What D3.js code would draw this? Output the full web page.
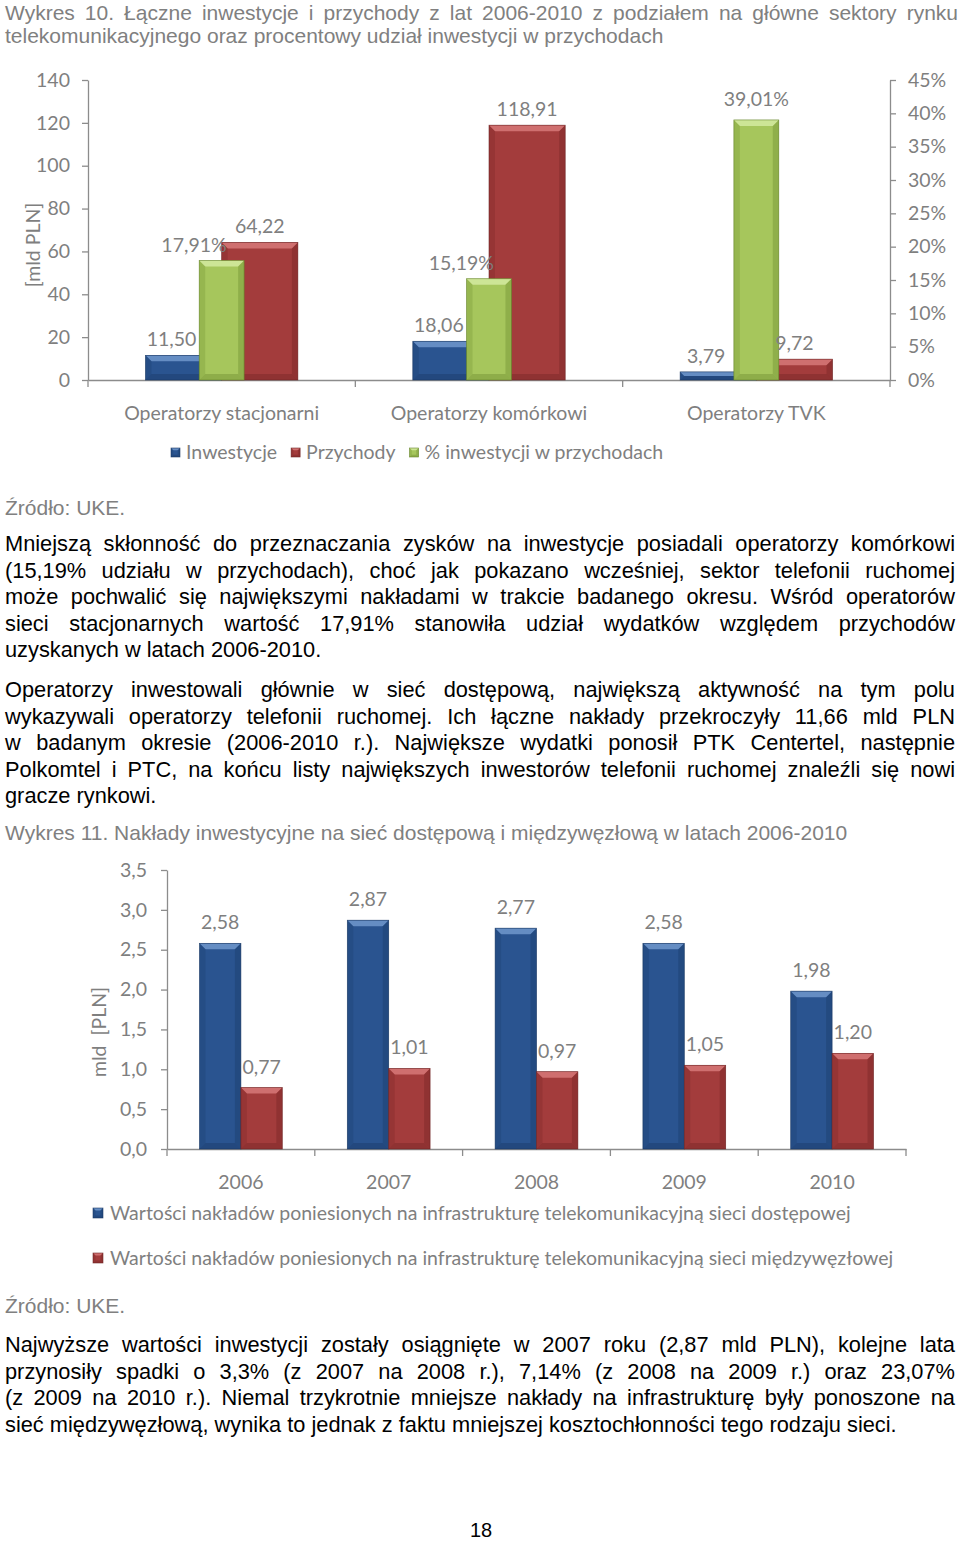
<!DOCTYPE html>
<html><head><meta charset="utf-8">
<script src="https://cdn.jsdelivr.net/npm/d3@7"></script>
<style>
body{margin:0;background:#fff}
svg{display:block}
</style></head><body>
<svg id="page" width="960" height="1541"></svg>
<script>
// ---------- DATA: chart 1 ----------
const sectors = ["Operatorzy stacjonarni", "Operatorzy komórkowi", "Operatorzy TVK"];
const investments = [11.50, 18.06, 3.79];
const revenues = [64.22, 118.91, 9.72];
const investShare = [0.1791, 0.1519, 0.3901];
const leftTicks1 = [0, 20, 40, 60, 80, 100, 120, 140];
const rightTicks1 = [0, 0.05, 0.10, 0.15, 0.20, 0.25, 0.30, 0.35, 0.40, 0.45];
const legend1 = ["Inwestycje", "Przychody", "% inwestycji w przychodach"];
const yTitle1 = "[mld PLN]";

// ---------- DATA: chart 2 ----------
const years = ["2006", "2007", "2008", "2009", "2010"];
const accessNet = [2.58, 2.87, 2.77, 2.58, 1.98];
const coreNet = [0.77, 1.01, 0.97, 1.05, 1.20];
const ticks2 = [0, 0.5, 1.0, 1.5, 2.0, 2.5, 3.0, 3.5];
const legend2 = [
  "Wartości nakładów poniesionych na infrastrukturę telekomunikacyjną sieci dostępowej",
  "Wartości nakładów poniesionych na infrastrukturę telekomunikacyjną sieci międzywęzłowej"
];
const yTitle2 = "mld  [PLN]";

// ---------- TEXT ----------
const title1 = [
  "Wykres 10. Łączne inwestycje i przychody z lat 2006-2010 z podziałem na główne sektory rynku",
  "telekomunikacyjnego oraz procentowy udział inwestycji w przychodach"
];
const source = "Źródło: UKE.";
const para1 = [
  "Mniejszą skłonność do przeznaczania zysków na inwestycje posiadali operatorzy komórkowi",
  "(15,19% udziału w przychodach), choć jak pokazano wcześniej, sektor telefonii ruchomej",
  "może pochwalić się największymi nakładami w trakcie badanego okresu. Wśród operatorów",
  "sieci stacjonarnych wartość 17,91% stanowiła udział wydatków względem przychodów",
  "uzyskanych w latach 2006-2010."
];
const para2 = [
  "Operatorzy  inwestowali głównie w sieć dostępową, największą aktywność na tym polu",
  "wykazywali operatorzy telefonii ruchomej. Ich łączne nakłady przekroczyły 11,66 mld PLN",
  "w badanym okresie (2006-2010 r.). Największe wydatki ponosił PTK Centertel, następnie",
  "Polkomtel i PTC, na końcu listy największych inwestorów telefonii ruchomej znaleźli się nowi",
  "gracze rynkowi."
];
const title2 = "Wykres 11. Nakłady inwestycyjne na sieć dostępową i międzywęzłową w latach 2006-2010";
const para3 = [
  "Najwyższe wartości inwestycji zostały osiągnięte w 2007 roku (2,87 mld PLN), kolejne lata",
  "przynosiły spadki o 3,3% (z 2007 na 2008 r.), 7,14% (z 2008 na 2009 r.) oraz 23,07%",
  "(z 2009 na 2010 r.). Niemal trzykrotnie mniejsze nakłady na infrastrukturę były ponoszone na",
  "sieć międzywęzłową, wynika to jednak z faktu mniejszej kosztochłonności tego rodzaju sieci."
];
const pageNumber = "18";

// ---------- STYLE ----------
const chartFont = "Lato, 'Open Sans', sans-serif";
const chartSize = 19.5;
const chartText = "#7f7f7f";
const axisColor = "#8c8c8c";
const docFont = "'Liberation Sans', Arial, sans-serif";
const greySize = 21;
const bodySize = 21.8;
const colors = {
  blue:  {base: "#2a5490", light: "#6b93c9", dark: "#17355f"},
  red:   {base: "#a33c3c", light: "#d47474", dark: "#6a2020"},
  green: {base: "#a6c65c", light: "#d2e89c", dark: "#617f26"}
};

const svg = d3.select("#page");
const loc = d3.formatLocale({decimal: ",", thousands: " ", grouping: [3], currency: ["", " zł"]});
const f2 = loc.format(".2f");
const fp2 = loc.format(".2%");
const f1 = loc.format(".1f");

const cvs = document.createElement("canvas").getContext("2d");
function measure(t, size, font) { cvs.font = size + "px " + font; return cvs.measureText(t).width; }

function textLine(line, x0, x1, y, size, font, color, justify) {
  const t = svg.append("text").attr("y", y).attr("font-size", size).attr("font-family", font).attr("fill", color);
  if (!justify) { t.attr("x", x0).text(line); return; }
  const words = line.split(/\s+/).filter(Boolean);
  const ws = words.map(w => measure(w, size, font));
  const sum = d3.sum(ws);
  const gap = (x1 - x0 - sum) / (words.length - 1);
  let x = x0;
  words.forEach((w, i) => {
    t.append("tspan").attr("x", x).text(w);
    x += ws[i] + gap;
  });
}
function paragraph(lines, y0, lh, size, color) {
  lines.forEach((l, i) => textLine(l, 5, 955, y0 + i * lh, size, docFont, color, i < lines.length - 1));
}

function bar(g, x, y, w, h, c) {
  if (h <= 0) return;
  const b = Math.min(6, h / 2, w / 4);
  const bg = g.append("g");
  bg.append("rect").attr("x", x).attr("y", y).attr("width", w).attr("height", h).attr("fill", c.base);
  const poly = (pts, fill, op) => bg.append("polygon").attr("points", pts.map(p => p.join(",")).join(" ")).attr("fill", fill).attr("fill-opacity", op);
  poly([[x, y], [x + w, y], [x + w - b, y + b], [x + b, y + b]], c.light, 0.9);
  poly([[x, y], [x + b, y + b], [x + b, y + h - b], [x, y + h]], c.dark, 0.22);
  poly([[x + w, y], [x + w - b, y + b], [x + w - b, y + h - b], [x + w, y + h]], c.dark, 0.32);
  poly([[x, y + h], [x + b, y + h - b], [x + w - b, y + h - b], [x + w, y + h]], c.dark, 0.35);
  bg.append("rect").attr("x", x).attr("y", y).attr("width", w).attr("height", h).attr("fill", "none").attr("stroke", c.dark).attr("stroke-width", 0.7).attr("stroke-opacity", 0.8);
}

function styleAxis(g) {
  g.select(".domain").attr("stroke", axisColor).attr("stroke-width", 1.3);
  g.selectAll(".tick line").attr("stroke", axisColor).attr("stroke-width", 1.3);
  g.selectAll(".tick text").attr("fill", chartText).attr("font-family", chartFont).attr("font-size", chartSize);
}

// ---------- TITLE 1 ----------
textLine(title1[0], 5, 958, 20, greySize, docFont, "#808080", true);
textLine(title1[1], 5, 958, 43, greySize, docFont, "#808080", false);

// ---------- CHART 1 ----------
{
  const g = svg.append("g");
  const x0 = d3.scaleBand().domain(sectors).range([88, 890]);
  const bw = x0.bandwidth();
  const pair = d3.scaleBand().domain(["inv", "rev"]).range([bw / 2 - bw * 0.285, bw / 2 + bw * 0.285]);
  const gw = bw * 0.168;
  const y1 = d3.scaleLinear().domain([0, 140]).range([380, 80]);
  const y2 = d3.scaleLinear().domain([0, 0.45]).range([380, 80]);

  const ax = g.append("g").attr("transform", "translate(88,0)")
    .call(d3.axisLeft(y1).tickValues(leftTicks1).tickSize(6).tickSizeOuter(0).tickPadding(12));
  styleAxis(ax);
  const ar = g.append("g").attr("transform", "translate(890,0)")
    .call(d3.axisRight(y2).tickValues(rightTicks1).tickSize(6).tickSizeOuter(0).tickPadding(12).tickFormat(d3.format(".0%")));
  styleAxis(ar);
  const ab = g.append("g").attr("transform", "translate(0,380)")
    .call(d3.axisBottom(x0).tickSize(0).tickSizeOuter(0).tickPadding(26));
  styleAxis(ab);
  const bounds = sectors.map(s => x0(s)).concat([x0.range()[1]]);
  g.selectAll("line.bt").data(bounds).join("line").attr("x1", d => d).attr("x2", d => d)
    .attr("y1", 380).attr("y2", 387).attr("stroke", axisColor).attr("stroke-width", 1.3);

  g.append("text").attr("transform", `translate(40,245) rotate(-90)`).attr("text-anchor", "middle")
    .attr("font-family", chartFont).attr("font-size", chartSize).attr("fill", chartText).text(yTitle1);

  sectors.forEach((s, i) => {
    const bx = x0(s) + pair("inv"), rx = x0(s) + pair("rev"), pw = pair.bandwidth();
    bar(g, bx, y1(investments[i]), pw, 380 - y1(investments[i]), colors.blue);
    bar(g, rx, y1(revenues[i]), pw, 380 - y1(revenues[i]), colors.red);
  });
  sectors.forEach((s, i) => {
    const cx = x0(s) + bw / 2;
    bar(g, cx - gw / 2, y2(investShare[i]), gw, 380 - y2(investShare[i]), colors.green);
  });
  const lab = (x, y, t, anchor) => g.append("text").attr("x", x).attr("y", y).attr("text-anchor", anchor || "middle")
    .attr("font-family", chartFont).attr("font-size", chartSize).attr("fill", chartText).text(t);
  sectors.forEach((s, i) => {
    const pw = pair.bandwidth();
    const bx = x0(s) + pair("inv"), rx = x0(s) + pair("rev");
    lab(bx + pw / 2 - 12, y1(investments[i]) - 9, f2(investments[i]));
    lab(rx + pw / 2, y1(revenues[i]) - 9, f2(revenues[i]));
    const gy = y2(investShare[i]) - 9;
    if (y1(revenues[i]) < gy) lab(rx + 5, gy, fp2(investShare[i]), "end");
    else lab(x0(s) + bw / 2, y2(investShare[i]) - 14, fp2(investShare[i]));
  });
  const sw = [colors.blue, colors.red, colors.green];
  let lx = 171;
  legend1.forEach((t, i) => {
    bar(g, lx, 448, 9, 9, sw[i]);
    g.append("text").attr("x", lx + 15).attr("y", 459).attr("font-family", chartFont).attr("font-size", chartSize).attr("fill", chartText).text(t);
    lx += 15 + measure(t, chartSize, chartFont) + 14;
  });
}

// ---------- SOURCE 1 + PARAGRAPHS ----------
textLine(source, 5, 955, 515, greySize, docFont, "#808080", false);
paragraph(para1, 551, 26.5, bodySize, "#000");
paragraph(para2, 697, 26.5, bodySize, "#000");
textLine(title2, 5, 955, 840, greySize, docFont, "#808080", false);

// ---------- CHART 2 ----------
{
  const g = svg.append("g");
  const x = d3.scaleBand().domain(years).range([167, 906]);
  const bw = x.bandwidth();
  const pair = d3.scaleBand().domain(["a", "c"]).range([bw / 2 - bw * 0.28, bw / 2 + bw * 0.28]);
  const y = d3.scaleLinear().domain([0, 3.5]).range([1149, 870]);

  const ax = g.append("g").attr("transform", "translate(167,0)")
    .call(d3.axisLeft(y).tickValues(ticks2).tickSize(6).tickSizeOuter(0).tickPadding(14).tickFormat(f1));
  styleAxis(ax);
  const ab = g.append("g").attr("transform", "translate(0,1149)")
    .call(d3.axisBottom(x).tickSize(0).tickSizeOuter(0).tickPadding(26));
  styleAxis(ab);
  const bounds = years.map(s => x(s)).concat([x.range()[1]]);
  g.selectAll("line.bt").data(bounds).join("line").attr("x1", d => d).attr("x2", d => d)
    .attr("y1", 1149).attr("y2", 1156).attr("stroke", axisColor).attr("stroke-width", 1.3);

  g.append("text").attr("transform", `translate(106,1032) rotate(-90)`).attr("text-anchor", "middle")
    .attr("font-family", chartFont).attr("font-size", chartSize).attr("fill", chartText).style("white-space", "pre").text(yTitle2);

  const lab = (xx, yy, t) => g.append("text").attr("x", xx).attr("y", yy).attr("text-anchor", "middle")
    .attr("font-family", chartFont).attr("font-size", chartSize).attr("fill", chartText).text(t);
  years.forEach((yr, i) => {
    const pw = pair.bandwidth();
    const ax0 = x(yr) + pair("a"), cx0 = x(yr) + pair("c");
    bar(g, ax0, y(accessNet[i]), pw, 1149 - y(accessNet[i]), colors.blue);
    bar(g, cx0, y(coreNet[i]), pw, 1149 - y(coreNet[i]), colors.red);
    lab(ax0 + pw / 2, y(accessNet[i]) - 14, f2(accessNet[i]));
    lab(cx0 + pw / 2, y(coreNet[i]) - 14, f2(coreNet[i]));
  });
  const sw = [colors.blue, colors.red];
  legend2.forEach((t, i) => {
    const ly = 1208 + i * 45;
    bar(g, 93, ly, 10, 10, sw[i]);
    g.append("text").attr("x", 110).attr("y", ly + 12).attr("font-family", chartFont).attr("font-size", chartSize).attr("fill", chartText).text(t);
  });
}

// ---------- SOURCE 2 + PARAGRAPH 3 ----------
textLine(source, 5, 955, 1313, greySize, docFont, "#808080", false);
paragraph(para3, 1352, 26.5, bodySize, "#000");
svg.append("text").attr("x", 481).attr("y", 1537).attr("text-anchor", "middle").attr("font-family", docFont).attr("font-size", 20).attr("fill", "#000").text(pageNumber);
</script>
</body></html>
